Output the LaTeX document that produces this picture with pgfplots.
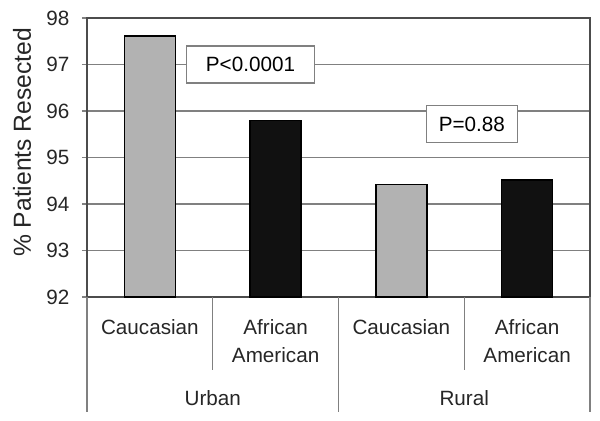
\documentclass[border=0pt]{standalone}
\usepackage{fontspec}
\setmainfont{Liberation Sans}
\usepackage{pgfplots}
\pgfplotsset{compat=1.18}
\definecolor{gridgray}{RGB}{128,128,128}
\definecolor{barlight}{RGB}{178,178,178}
\definecolor{bardark}{RGB}{17,17,17}

\begin{document}
\begin{tikzpicture}[font=\fontsize{15.5}{18}\selectfont]
\begin{axis}[
  scale only axis,
  width=377.25pt, height=209.25pt,
  xmin=-0.5, xmax=3.5,
  ymin=92, ymax=98,
  ytick={92,93,94,95,96,97,98},
  xtick=\empty,
  ymajorgrids,
  grid style={gridgray, line width=0.9pt},
  axis line style={gridgray, line width=0.9pt},
  y axis line style={black!70},
  ytick style={gridgray, line width=0.9pt},
  tick align=outside,
  major tick length=3.75pt,
  ytick pos=left,
  /pgf/number format/assume math mode=true,
  yticklabel style={font=\fontsize{15.5}{18}\selectfont, text=black!85, xshift=-6pt},
  clip mode=individual,
]
% Urban / Rural, Caucasian (light) and African American (dark)
\addplot[ybar, bar width=38.25pt, bar shift=0pt, fill=barlight, draw=black, line width=1.1pt]
  coordinates {(0,97.61)(2,94.42)};
\addplot[ybar, bar width=38.25pt, bar shift=0pt, fill=bardark, draw=black, line width=1.1pt]
  coordinates {(1,95.80)(3,94.52)};

% p-value boxes
\node[draw=gridgray, line width=0.8pt, fill=white, minimum width=96pt, minimum height=27.75pt, inner sep=0pt]
  at (axis cs:0.8,97.0) {P<0.0001};
\node[draw=gridgray, line width=0.8pt, fill=white, minimum width=68pt, minimum height=27.75pt, inner sep=0pt]
  at (axis cs:2.56,95.72) {P=0.88};

% y label
\node[rotate=90, text=black!85, font=\fontsize{18.5}{22}\selectfont] at ([xshift=-48.75pt]rel axis cs:0,0.554) {\% Patients Resected};

% category separators below the axis
\draw[gridgray, line width=0.9pt] (axis cs:-0.5,92) -- ([yshift=-86.25pt]axis cs:-0.5,92);
\draw[gridgray, line width=0.9pt] (axis cs:1.5,92) -- ([yshift=-86.25pt]axis cs:1.5,92);
\draw[gridgray, line width=0.9pt] (axis cs:3.5,92) -- ([yshift=-86.25pt]axis cs:3.5,92);
\draw[gridgray, line width=0.9pt] (axis cs:0.5,92) -- ([yshift=-54.75pt]axis cs:0.5,92);
\draw[gridgray, line width=0.9pt] (axis cs:2.5,92) -- ([yshift=-54.75pt]axis cs:2.5,92);

% category labels
\node[text=black!85] at ([yshift=-22.5pt]axis cs:0,92) {Caucasian};
\node[text=black!85] at ([yshift=-22.5pt]axis cs:2,92) {Caucasian};
\node[text=black!85, align=center] at ([yshift=-33pt]axis cs:1,92) {African\\[3pt]American};
\node[text=black!85, align=center] at ([yshift=-33pt]axis cs:3,92) {African\\[3pt]American};
\node[text=black!85] at ([yshift=-75.75pt]axis cs:0.5,92) {Urban};
\node[text=black!85] at ([yshift=-75.75pt]axis cs:2.5,92) {Rural};

% canvas size
\path ([xshift=-65.25pt, yshift=-93pt]rel axis cs:0,0) rectangle ([xshift=384.75pt, yshift=222.75pt]rel axis cs:0,0);
\end{axis}
\end{tikzpicture}
\end{document}
